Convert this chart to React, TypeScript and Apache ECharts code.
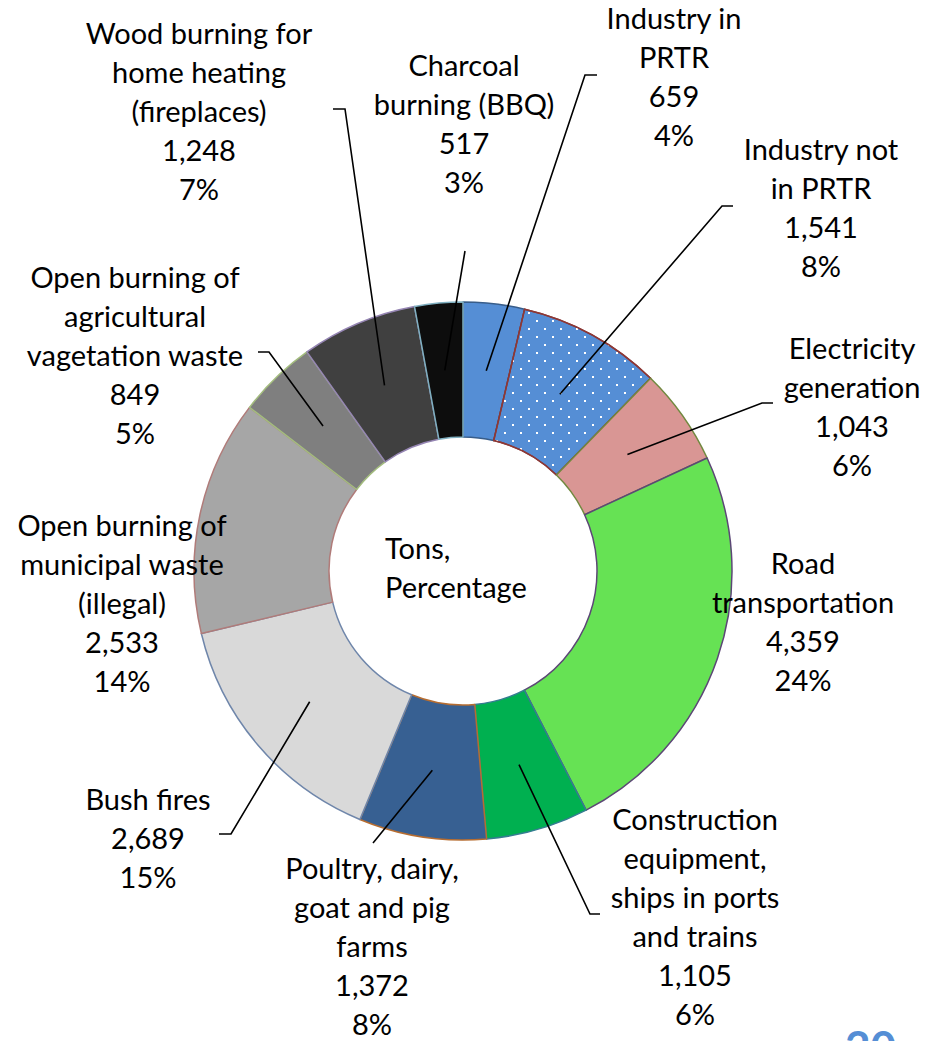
import React, { useEffect, useRef } from "react";
import * as echarts from "echarts";

// ---- data ----
const categories = [
  "Industry in\nPRTR",
  "Industry not\nin PRTR",
  "Electricity\ngeneration",
  "Road\ntransportation",
  "Construction\nequipment,\nships in ports\nand trains",
  "Poultry, dairy,\ngoat and pig\nfarms",
  "Bush fires",
  "Open burning of\nmunicipal waste\n(illegal)",
  "Open burning of\nagricultural\nvagetation waste",
  "Wood burning for\nhome heating\n(fireplaces)",
  "Charcoal\nburning (BBQ)",
];
const tons = [659, 1541, 1043, 4359, 1105, 1372, 2689, 2533, 849, 1248, 517];
const percentLabels = ["4%", "8%", "6%", "24%", "6%", "8%", "15%", "14%", "5%", "7%", "3%"];

// ---- styles / layout ----
const fillColors = [
  "#558ED5", "#558ED5", "#D99694", "#66E254", "#00B050", "#376092",
  "#D9D9D9", "#A6A6A6", "#7F7F7F", "#404040", "#0D0D0D",
];
const borderColors = [
  "#385D8A", "#8C3836", "#71893F", "#5C4776", "#357D91", "#B66D31",
  "#6F86AA", "#B07B79", "#A3BC7E", "#9585B3", "#7FAFC0",
];
const CX = 463;
const CY = 571;
const R_IN = 134;
const R_OUT = 269;
const FONT = "Lato";
const FONT_SIZE = 29;
const LINE_H = 39;

// label block centres
const labelPos: [number, number][] = [
  [674, 76], [821, 207], [852, 406], [803, 621], [695, 916], [372, 945],
  [148, 837], [122, 602], [135, 354], [199, 110], [464, 123],
];
// leader lines: points after the anchor in the slice (null = no line)
const leaderPts: ([number, number][] | null)[] = [
  [[585, 75], [597, 75]],
  [[722, 206], [733, 206]],
  [[762, 403], [773, 403]],
  null,
  [[590, 914], [600, 914]],
  [[373, 843]],
  [[231, 834], [219, 834]],
  null,
  [[269, 352], [258, 352]],
  [[345, 109], [333, 109]],
  [[465, 251]],
];

const fmt = (v: number) => String(v).replace(/\B(?=(\d{3})+(?!\d))/g, ",");

export default function App() {
  const ref = useRef<HTMLDivElement>(null);
  useEffect(() => {
    if (!ref.current) return;
    const chart = echarts.init(ref.current, null, { renderer: "svg" });
    const total = tons.reduce((a, b) => a + b, 0);
    const anchors = (() => {
      let cum = 0;
      const rMid = (R_IN + R_OUT) / 2;
      return tons.map((v) => {
        const frac = (cum + v / 2) / total;
        cum += v;
        const a = frac * Math.PI * 2;
        return [CX + rMid * Math.sin(a), CY - rMid * Math.cos(a)] as [number, number];
      });
    })();

    const sliceData = tons.map((v, i) => ({
      name: categories[i],
      value: v,
      itemStyle: {
        color: fillColors[i],
        borderColor: borderColors[i],
        borderWidth: 1.5,
        ...(i === 1
          ? {
              decal: {
                symbol: "rect",
                symbolSize: 1,
                color: "#ffffff",
                dashArrayX: [[2, 14], [0, 8, 2, 6]],
                dashArrayY: [2, 6],
                rotation: 0,
              },
            }
          : {}),
      },
    }));

    const labelData = tons.map((v, i) => ({
      name: categories[i],
      value: v,
      labelLine: { show: leaderPts[i] !== null },
    }));

    const common = {
      type: "pie",
      center: [CX, CY],
      radius: [R_IN, R_OUT],
      startAngle: 90,
      clockwise: true,
      avoidLabelOverlap: false,
      emphasis: { disabled: true },
      silent: true,
    };

    chart.setOption({
      animation: false,
      backgroundColor: "#ffffff",
      graphic: [
        {
          type: "text",
          left: 385,
          top: 528,
          style: {
            text: "Tons,\nPercentage",
            font: `${FONT_SIZE}px ${FONT}`,
            lineHeight: LINE_H,
            fill: "#000000",
            align: "left",
          },
        },
        {
          type: "text",
          left: 845,
          top: 1024,
          style: {
            text: "20",
            font: `bold 44px ${FONT}`,
            fill: "#558ED5",
          },
        },
      ],
      series: [
        {
          ...common,
          name: "slices",
          z: 2,
          data: sliceData,
          label: { show: false },
          labelLine: { show: false },
        },
        {
          ...common,
          name: "labels",
          z: 6,
          data: labelData,
          itemStyle: { color: "rgba(0,0,0,0)", borderWidth: 0 },
          label: {
            show: true,
            position: "outside",
            fontFamily: FONT,
            fontSize: FONT_SIZE,
            lineHeight: LINE_H,
            color: "#000000",
            align: "center",
            formatter: (p: any) =>
              `${categories[p.dataIndex]}\n${fmt(tons[p.dataIndex])}\n${percentLabels[p.dataIndex]}`,
          },
          labelLine: {
            show: true,
            smooth: false,
            lineStyle: { color: "#000000", width: 1.6 },
          },
          labelLayout: (params: any) => {
            const i = params.dataIndex;
            const pts = leaderPts[i];
            const out: any = {
              x: labelPos[i][0],
              y: labelPos[i][1],
              align: "center",
              verticalAlign: "middle",
            };
            if (pts) {
              const list: [number, number][] = [anchors[i], ...pts];
              if (list.length < 3) list.push(list[list.length - 1]);
              out.labelLinePoints = list;
            }
            return out;
          },
        },
      ],
    });
    return () => chart.dispose();
  }, []);
  return (
    <div
      ref={ref}
      style={{ position: "absolute", left: 0, top: 0, width: 940, height: 1041 }}
    />
  );
}
